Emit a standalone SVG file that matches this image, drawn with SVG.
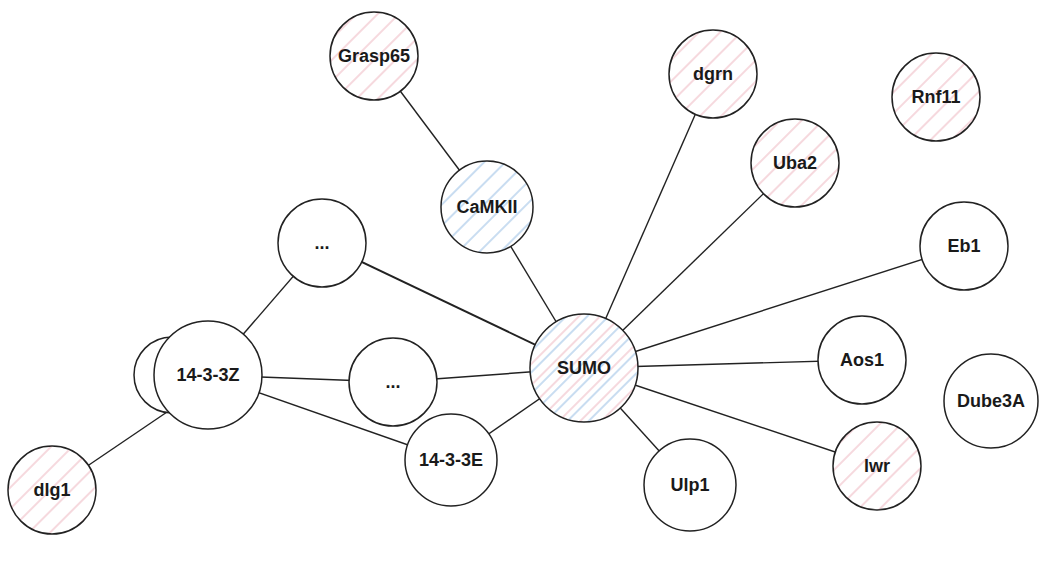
<svg xmlns="http://www.w3.org/2000/svg" width="1045" height="569" viewBox="0 0 1045 569">
<style>
.n{stroke:#222;stroke-width:1.5}
.w{fill:#fff}
.p{fill:url(#hp)}
.b{fill:url(#hb)}
.s{fill:url(#hs)}
text{font-family:"Liberation Sans",Arial,sans-serif;font-weight:bold;font-size:18px;fill:#1a1a1a;text-anchor:middle;dominant-baseline:central}
#edges line{stroke:#222;stroke-width:1.4}
</style>
<defs>
<pattern id="hp" width="15" height="15" patternUnits="userSpaceOnUse" patternTransform="rotate(-45)">
<rect width="15" height="15" fill="#fff"/>
<line x1="0" y1="7" x2="15" y2="7" stroke="#eeb4bd" stroke-width="1"/>
</pattern>
<pattern id="hb" width="15" height="15" patternUnits="userSpaceOnUse" patternTransform="rotate(-45)">
<rect width="15" height="15" fill="#fff"/>
<line x1="0" y1="7" x2="15" y2="7" stroke="#93bbe4" stroke-width="1"/>
</pattern>
<pattern id="hs" width="15" height="15" patternUnits="userSpaceOnUse" patternTransform="rotate(-45)">
<rect width="15" height="15" fill="#fff"/>
<line x1="0" y1="3" x2="15" y2="3" stroke="#eeb4bd" stroke-width="1"/>
<line x1="0" y1="9" x2="15" y2="9" stroke="#93bbe4" stroke-width="1"/>
</pattern>
</defs>
<rect width="1045" height="569" fill="#fff"/>
<g id="edges">
<line x1="374" y1="56" x2="487" y2="207"/>
<line x1="487" y1="207" x2="584" y2="368"/>
<line x1="713" y1="74" x2="584" y2="368"/>
<line x1="795" y1="163" x2="584" y2="368"/>
<line x1="964" y1="246" x2="584" y2="368"/>
<line x1="862" y1="360" x2="584" y2="368"/>
<line x1="877" y1="466" x2="584" y2="368"/>
<line x1="690" y1="485" x2="584" y2="368"/>
<line x1="451" y1="460" x2="584" y2="368"/>
<line x1="322" y1="243" x2="584" y2="368" style="stroke-width:2"/>
<line x1="393" y1="382" x2="584" y2="368"/>
<line x1="322" y1="243" x2="208" y2="375"/>
<line x1="208" y1="375" x2="393" y2="382"/>
<line x1="208" y1="375" x2="451" y2="460"/>
<line x1="52" y1="490" x2="170" y2="410"/>
</g>
<g id="n-grasp65"><circle class="n p" cx="374" cy="56" r="44"/><text x="374" y="56">Grasp65</text></g>
<g id="n-dgrn"><circle class="n p" cx="713" cy="74" r="44"/><text x="713" y="74">dgrn</text></g>
<g id="n-rnf11"><circle class="n p" cx="936" cy="97" r="44"/><text x="936" y="97">Rnf11</text></g>
<g id="n-camkii"><circle class="n b" cx="487" cy="207" r="46"/><text x="487" y="207">CaMKII</text></g>
<g id="n-uba2"><circle class="n p" cx="795" cy="163" r="44"/><text x="795" y="163">Uba2</text></g>
<g id="n-dots1"><circle class="n w" cx="322" cy="243" r="44"/><text x="322" y="243">...</text></g>
<g id="n-eb1"><circle class="n w" cx="964" cy="246" r="44"/><text x="964" y="246">Eb1</text></g>
<g id="n-sumo"><circle class="n s" cx="584" cy="368" r="54"/><text x="584" y="368">SUMO</text></g>
<g id="n-aos1"><circle class="n w" cx="862" cy="360" r="44"/><text x="862" y="360">Aos1</text></g>
<g id="n-dube3a"><circle class="n w" cx="991" cy="401" r="47"/><text x="991" y="401">Dube3A</text></g>
<g id="n-dots2"><circle class="n w" cx="393" cy="382" r="44"/><text x="393" y="382">...</text></g>
<g id="n-14-3-3z"><circle class="n w" cx="172" cy="375" r="38"/><circle class="n w" cx="208" cy="375" r="54"/><text x="208" y="375">14-3-3Z</text></g>
<g id="n-dlg1"><circle class="n p" cx="52" cy="490" r="44"/><text x="52" y="490">dlg1</text></g>
<g id="n-14-3-3e"><circle class="n w" cx="451" cy="460" r="46"/><text x="451" y="460">14-3-3E</text></g>
<g id="n-ulp1"><circle class="n w" cx="690" cy="485" r="46"/><text x="690" y="485">Ulp1</text></g>
<g id="n-lwr"><circle class="n p" cx="877" cy="466" r="44"/><text x="877" y="466">lwr</text></g>
</svg>
